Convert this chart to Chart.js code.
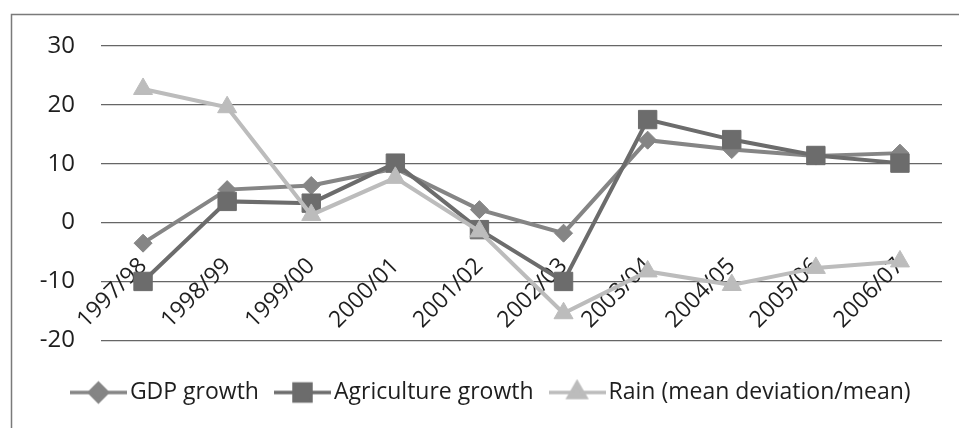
<!DOCTYPE html>
<html>
<head>
<meta charset="utf-8">
<title>GDP, agriculture and rain</title>
<script src="https://cdn.jsdelivr.net/npm/chart.js@4/dist/chart.umd.min.js"></script>
<style>
  html, body { margin: 0; padding: 0; background: #fff; }
  #wrap { position: relative; width: 959px; height: 428px; }
</style>
</head>
<body>
<div id="wrap"><canvas id="chart" width="959" height="428"></canvas></div>
<script>
const categories = ['1997/98', '1998/99', '1999/00', '2000/01', '2001/02',
                    '2002/03', '2003/04', '2004/05', '2005/06', '2006/07'];
const gdpGrowth = [-3.5, 5.6, 6.3, 9.2, 2.2, -1.8, 14.0, 12.4, 11.3, 11.8];
const agricultureGrowth = [-10.0, 3.6, 3.3, 10.1, -1.2, -10.0, 17.5, 14.1, 11.4, 10.1];
const rainDeviation = [22.7, 19.6, 1.3, 7.6, -1.5, -15.4, -8.3, -10.6, -7.7, -6.6];
const yTicks = [-20, -10, 0, 10, 20, 30];

const FONT = '"Open Sans"';
const TEXT = '#1e1e1e';

// legend icon: short line with the marker in the middle
function legendIcon(color, style, radius) {
  const c = document.createElement('canvas');
  c.width = 57;
  c.height = 28;
  const g = c.getContext('2d');
  g.strokeStyle = color;
  g.lineWidth = 3.5;
  g.beginPath();
  g.moveTo(0, 14);
  g.lineTo(57, 14);
  g.stroke();
  g.fillStyle = color;
  g.strokeStyle = color;
  Chart.helpers.drawPoint(g, { pointStyle: style, radius: radius, borderWidth: 1, rotation: 0 }, 28.5, 14);
  return c;
}

const series = [
  { label: 'GDP growth', data: gdpGrowth, color: '#858585', style: 'rectRot', radius: 9, iconR: 9, order: 3 },
  { label: 'Agriculture growth', data: agricultureGrowth, color: '#6c6c6c', style: 'rect', radius: 13, iconR: 12, order: 2 },
  { label: 'Rain (mean deviation/mean)', data: rainDeviation, color: '#bcbcbc', style: 'triangle', radius: 11, iconR: 10, order: 1 }
];

const frame = {
  id: 'frame',
  beforeDraw(chart) {
    const ctx = chart.ctx;
    ctx.save();
    ctx.strokeStyle = '#7a7a7a';
    ctx.lineWidth = 1.5;
    ctx.strokeRect(11.5, 14.5, 1000, 1000);
    ctx.restore();
  },
  // value labels hang further left than the axis box, keep them unclipped
  afterLayout(chart) {
    chart.scales.y.left = 0;
  }
};

new Chart(document.getElementById('chart'), {
  type: 'line',
  data: {
    labels: categories,
    datasets: series.map(s => ({
      label: s.label,
      data: s.data,
      borderColor: s.color,
      backgroundColor: s.color,
      borderWidth: 4,
      pointStyle: s.style,
      pointRadius: s.radius,
      pointBorderWidth: 1,
      pointBackgroundColor: s.color,
      pointBorderColor: s.color,
      tension: 0,
      order: s.order,
      icon: legendIcon(s.color, s.style, s.iconR)
    }))
  },
  options: {
    responsive: false,
    animation: false,
    layout: { padding: { left: 47, right: 17, top: 46, bottom: 14 } },
    scales: {
      x: {
        position: { y: 0 },
        offset: true,
        grid: { display: false, offset: true },
        border: { display: false },
        ticks: {
          autoSkip: false,
          minRotation: 45,
          maxRotation: 45,
          color: TEXT,
          font: { family: FONT, size: 23 },
          padding: 22
        }
      },
      y: {
        min: -20,
        max: 30,
        afterFit(scale) { scale.width = 54; },
        afterBuildTicks(scale) { scale.ticks = yTicks.map(v => ({ value: v })); },
        grid: { color: '#666666', lineWidth: 1.2, drawTicks: false },
        border: { display: false },
        ticks: {
          color: TEXT,
          font: { family: FONT, size: 24 },
          padding: 26
        }
      }
    },
    plugins: {
      tooltip: { enabled: false },
      legend: {
        position: 'bottom',
        title: { display: true, text: '', font: { size: 1 }, padding: { top: 16, bottom: 0 } },
        labels: {
          usePointStyle: true,
          pointStyleWidth: 40,
          padding: 23.5,
          color: TEXT,
          font: { family: FONT, size: 23 },
          sort: (a, b) => a.datasetIndex - b.datasetIndex,
          generateLabels(chart) {
            return chart.data.datasets.map((ds, i) => ({
              text: ds.label,
              datasetIndex: i,
              pointStyle: ds.icon,
              fillStyle: ds.borderColor,
              strokeStyle: ds.borderColor,
              lineWidth: 0,
              fontColor: TEXT,
              hidden: false
            }));
          }
        }
      }
    }
  },
  plugins: [frame]
});
</script>
</body>
</html>
